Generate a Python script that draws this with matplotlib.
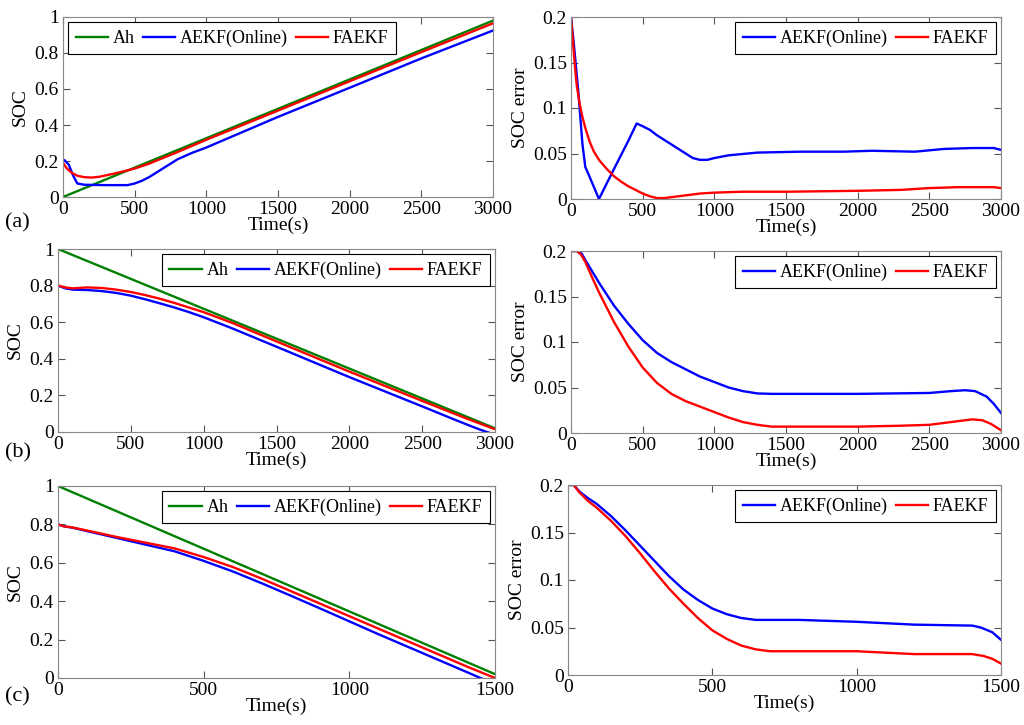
import numpy as np
import matplotlib
matplotlib.use('Agg')
import matplotlib.pyplot as plt

plt.rcParams['font.family'] = ['Liberation Serif', 'DejaVu Serif']
plt.rcParams['font.size'] = 14

green = (0, 0.5, 0)
blue = (0, 0, 1)
red = (1, 0, 0)

# ---- panel (a) SOC
a_ah_t = [0, 3000]
a_ah_v = [0.0, 0.98]
a_aekf_t = [0, 10, 40, 70, 100, 150, 300, 450, 500, 550, 600, 700, 800, 900, 1000, 1500, 2000, 2500, 3000]
a_aekf_v = [0.20, 0.205, 0.18, 0.12, 0.075, 0.068, 0.066, 0.066, 0.075, 0.09, 0.11, 0.16, 0.21, 0.245,
            0.275, 0.445, 0.607, 0.77, 0.925]
a_faekf_t = [0, 25, 60, 100, 150, 200, 250, 300, 400, 500, 600, 800, 1000, 1500, 2000, 2500, 3000]
a_faekf_v = [0.19, 0.16, 0.135, 0.118, 0.11, 0.108, 0.112, 0.12, 0.138, 0.158, 0.185, 0.25, 0.318,
             0.48, 0.643, 0.805, 0.965]

# ---- panel (a) SOC error
ae_aekf_t = [0, 20, 50, 80, 100, 120, 195, 300, 400, 458, 500, 550, 600, 700, 800, 850, 900, 950, 1000,
             1100, 1300, 1600, 1900, 2100, 2400, 2600, 2800, 2950, 3000]
ae_aekf_v = [0.2, 0.17, 0.12, 0.06, 0.035, 0.028, 0.0, 0.033, 0.064, 0.083, 0.08, 0.076, 0.07, 0.06,
             0.05, 0.045, 0.043, 0.043, 0.045, 0.048, 0.051, 0.052, 0.052, 0.053, 0.052, 0.055, 0.056,
             0.056, 0.054]
ae_faekf_t = [0, 10, 25, 40, 60, 80, 100, 130, 160, 200, 250, 300, 350, 400, 450, 500, 550, 600, 650,
              700, 800, 900, 1000, 1200, 1500, 2000, 2300, 2500, 2700, 2950, 3000]
ae_faekf_v = [0.2, 0.18, 0.15, 0.125, 0.105, 0.09, 0.078, 0.063, 0.052, 0.042, 0.033, 0.025, 0.019,
              0.014, 0.01, 0.006, 0.003, 0.001, 0.001, 0.002, 0.004, 0.006, 0.007, 0.008, 0.008, 0.009,
              0.01, 0.012, 0.013, 0.013, 0.012]

# ---- panel (b) SOC
b_ah_t = [0, 3000]
b_ah_v = [1.0, 0.02]
b_aekf_t = [0, 50, 100, 200, 300, 400, 500, 600, 700, 800, 900, 1000, 1200, 1500, 2000, 2500, 2700,
            2800, 2900, 3000]
b_aekf_v = [0.8, 0.785, 0.778, 0.776, 0.77, 0.76, 0.745, 0.725, 0.703, 0.68, 0.655, 0.627, 0.565,
            0.466, 0.30, 0.14, 0.075, 0.043, 0.012, -0.015]
b_faekf_t = [0, 50, 100, 200, 300, 400, 500, 600, 700, 800, 900, 1000, 1200, 1500, 2000, 2500, 2800, 3000]
b_faekf_v = [0.8, 0.79, 0.785, 0.79, 0.787, 0.778, 0.765, 0.748, 0.728, 0.705, 0.68, 0.655, 0.595,
             0.495, 0.33, 0.17, 0.075, 0.015]

# ---- panel (b) SOC error
be_aekf_t = [0, 50, 75, 100, 150, 200, 300, 400, 500, 600, 700, 800, 900, 1000, 1100, 1200, 1300, 1400,
             2000, 2500, 2650, 2750, 2820, 2900, 2950, 3000]
be_aekf_v = [0.2, 0.2, 0.197, 0.19, 0.177, 0.164, 0.14, 0.12, 0.102, 0.088, 0.078, 0.07, 0.062, 0.056,
             0.05, 0.046, 0.0435, 0.043, 0.043, 0.044, 0.046, 0.047, 0.046, 0.04, 0.032, 0.022]
be_faekf_t = [0, 40, 70, 100, 150, 200, 300, 400, 500, 600, 700, 800, 900, 1000, 1100, 1200, 1300, 1400,
              2000, 2300, 2500, 2650, 2800, 2870, 2930, 3000]
be_faekf_v = [0.2, 0.2, 0.196, 0.188, 0.17, 0.153, 0.122, 0.095, 0.072, 0.055, 0.043, 0.035, 0.029,
              0.023, 0.017, 0.012, 0.009, 0.007, 0.007, 0.008, 0.009, 0.012, 0.015, 0.014, 0.01, 0.003]

# ---- panel (c) SOC
c_ah_t = [0, 1500]
c_ah_v = [1.0, 0.02]
c_aekf_t = [0, 20, 50, 100, 200, 300, 400, 500, 600, 700, 800, 900, 1000, 1100, 1200, 1300, 1400, 1450, 1500]
c_aekf_v = [0.8, 0.79, 0.783, 0.765, 0.73, 0.695, 0.66, 0.61, 0.555, 0.493, 0.428, 0.362, 0.295, 0.228,
            0.163, 0.098, 0.033, 0.0, -0.03]
c_faekf_t = [0, 20, 50, 100, 200, 300, 400, 500, 600, 700, 800, 900, 1000, 1100, 1200, 1300, 1400, 1500]
c_faekf_v = [0.8, 0.79, 0.784, 0.768, 0.735, 0.705, 0.675, 0.63, 0.578, 0.517, 0.452, 0.387, 0.322, 0.257,
             0.192, 0.127, 0.062, 0.0]

# ---- panel (c) SOC error
ce_aekf_t = [0, 20, 40, 70, 100, 150, 200, 250, 300, 350, 400, 450, 500, 550, 600, 650, 800, 1000, 1200,
             1400, 1430, 1470, 1500]
ce_aekf_v = [0.2, 0.2, 0.193, 0.186, 0.18, 0.167, 0.152, 0.136, 0.12, 0.104, 0.09, 0.079, 0.07, 0.064,
             0.06, 0.058, 0.058, 0.056, 0.053, 0.052, 0.05, 0.045, 0.037]
ce_faekf_t = [0, 20, 40, 70, 100, 150, 200, 250, 300, 350, 400, 450, 500, 550, 600, 650, 700, 1000, 1200,
              1400, 1440, 1470, 1500]
ce_faekf_v = [0.2, 0.2, 0.192, 0.183, 0.176, 0.162, 0.146, 0.128, 0.109, 0.091, 0.075, 0.06, 0.047,
              0.038, 0.031, 0.027, 0.025, 0.025, 0.022, 0.022, 0.02, 0.017, 0.012]

W, H = 1024, 725
fig = plt.figure(figsize=(W / 100, H / 100), dpi=100)


def box(l, r, t, b):
    return [l / W, 1 - b / H, (r - l) / W, (b - t) / H]


def style(ax):
    for s in ax.spines.values():
        s.set_color('#888888')
        s.set_linewidth(0.8)
    ax.tick_params(direction='in', top=True, right=True, length=5, color='#555555', labelsize=14, pad=3)


def add_legend(ax, loc, ncol):
    leg = ax.legend(loc=loc, ncol=ncol, fontsize=13, handlelength=1.8, handletextpad=0.25,
                    columnspacing=0.45, borderpad=0.4, fancybox=False, framealpha=1,
                    borderaxespad=0.3)
    leg.get_frame().set_edgecolor('black')
    leg.get_frame().set_linewidth(0.8)


def soc_panel(rect, xmax, xt, ah, aekf, faekf, loc):
    ax = fig.add_axes(rect)
    ax.plot(ah[0], ah[1], color=green, lw=1.7, label='Ah')
    ax.plot(aekf[0], aekf[1], color=blue, lw=1.7, label='AEKF(Online)')
    ax.plot(faekf[0], faekf[1], color=red, lw=1.7, label='FAEKF')
    ax.set_xlim(0, xmax)
    ax.set_ylim(0, 1)
    ax.set_xticks(xt)
    ax.set_yticks([0, 0.2, 0.4, 0.6, 0.8, 1])
    ax.set_yticklabels(['0', '0.2', '0.4', '0.6', '0.8', '1'])
    ax.set_xlabel('Time(s)', labelpad=-1)
    ax.set_ylabel('SOC', labelpad=4)
    add_legend(ax, loc, 3)
    style(ax)
    return ax


def err_panel(rect, xmax, xt, aekf, faekf):
    ax = fig.add_axes(rect)
    ax.plot(aekf[0], aekf[1], color=blue, lw=1.7, label='AEKF(Online)')
    ax.plot(faekf[0], faekf[1], color=red, lw=1.7, label='FAEKF')
    ax.set_xlim(0, xmax)
    ax.set_ylim(0, 0.2)
    ax.set_xticks(xt)
    ax.set_yticks([0, 0.05, 0.1, 0.15, 0.2])
    ax.set_yticklabels(['0', '0.05', '0.1', '0.15', '0.2'])
    ax.set_xlabel('Time(s)', labelpad=-1)
    ax.set_ylabel('SOC error', labelpad=3)
    add_legend(ax, 'upper right', 2)
    style(ax)
    return ax


xt3000 = [0, 500, 1000, 1500, 2000, 2500, 3000]
xt1500 = [0, 500, 1000, 1500]

soc_panel(box(63, 493, 17, 197), 3000, xt3000, (a_ah_t, a_ah_v), (a_aekf_t, a_aekf_v),
          (a_faekf_t, a_faekf_v), 'upper left')
err_panel(box(571, 1001, 17, 199), 3000, xt3000, (ae_aekf_t, ae_aekf_v), (ae_faekf_t, ae_faekf_v))

soc_panel(box(58, 495, 249, 432), 3000, xt3000, (b_ah_t, b_ah_v), (b_aekf_t, b_aekf_v),
          (b_faekf_t, b_faekf_v), 'upper right')
err_panel(box(571, 1001, 251, 433), 3000, xt3000, (be_aekf_t, be_aekf_v), (be_faekf_t, be_faekf_v))

soc_panel(box(58, 495, 486, 678), 1500, xt1500, (c_ah_t, c_ah_v), (c_aekf_t, c_aekf_v),
          (c_faekf_t, c_faekf_v), 'upper right')
err_panel(box(568, 1001, 485, 675), 1500, xt1500, (ce_aekf_t, ce_aekf_v), (ce_faekf_t, ce_faekf_v))

fig.text(5 / W, 1 - 223 / H, '(a)', fontsize=16, va='center', ha='left')
fig.text(5 / W, 1 - 453 / H, '(b)', fontsize=16, va='center', ha='left')
fig.text(5 / W, 1 - 697 / H, '(c)', fontsize=16, va='center', ha='left')

fig.savefig('out.png', dpi=100)
